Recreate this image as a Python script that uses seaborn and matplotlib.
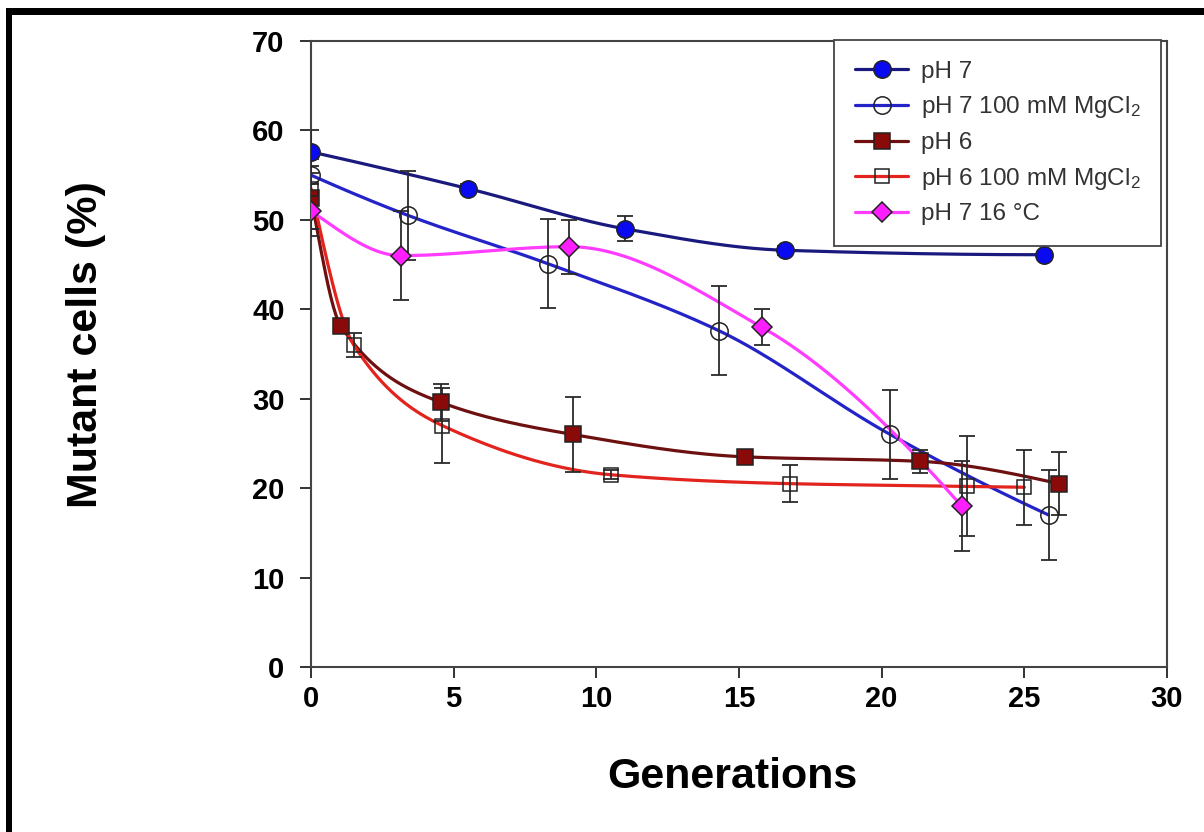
import numpy as np
import pandas as pd
import matplotlib
matplotlib.use("Agg")
import matplotlib.pyplot as plt
from matplotlib.lines import Line2D
from matplotlib.patches import Rectangle
import seaborn as sns

# ---------------- data ----------------
ph7_x = [0.0, 5.5, 11.0, 16.6, 25.7]
ph7_y = [57.6, 53.5, 49.0, 46.6, 46.1]
ph7_e = [2.4, 0.5, 1.4, 0.5, 0.3]

ph7mg_x = [0.0, 3.4, 8.3, 14.3, 20.3, 25.85]
ph7mg_y = [55.0, 50.5, 45.1, 37.6, 26.0, 17.0]
ph7mg_e = [1.0, 5.0, 5.0, 5.0, 5.0, 5.0]

ph6_x = [0.0, 1.05, 4.55, 9.18, 15.2, 21.33, 26.22]
ph6_y = [52.5, 38.1, 29.6, 26.0, 23.5, 23.0, 20.5]
ph6_e = [4.3, 0.4, 2.1, 4.2, 0.4, 1.3, 3.5]

ph6mg_x = [0.0, 1.5, 4.6, 10.5, 16.8, 23.0, 25.0]
ph6mg_y = [53.5, 36.0, 27.0, 21.5, 20.5, 20.2, 20.1]
ph6mg_e = [4.5, 1.3, 4.2, 0.5, 2.1, 5.6, 4.2]

ph716_x = [0.0, 3.15, 9.05, 15.8, 22.8]
ph716_y = [51.0, 46.0, 47.0, 38.0, 18.0]
ph716_e = [2.0, 5.0, 3.0, 2.0, 5.0]

labels = ["pH 7", "pH 7 100 mM MgCl$_2$", "pH 6", "pH 6 100 mM MgCl$_2$", "pH 7 16 \u00b0C"]
x_ticks = [0, 5, 10, 15, 20, 25, 30]
y_ticks = [0, 10, 20, 30, 40, 50, 60, 70]


def pchip(x, y, xs):
    """Shape-preserving piecewise cubic curve through the data points."""
    x = np.asarray(x, float)
    y = np.asarray(y, float)
    h = np.diff(x)
    d = np.diff(y) / h
    n = len(x)
    m = np.zeros(n)
    for k in range(1, n - 1):
        if d[k - 1] * d[k] > 0:
            w1 = 2 * h[k] + h[k - 1]
            w2 = h[k] + 2 * h[k - 1]
            m[k] = (w1 + w2) / (w1 / d[k - 1] + w2 / d[k])
    m0 = ((2 * h[0] + h[1]) * d[0] - h[0] * d[1]) / (h[0] + h[1])
    if np.sign(m0) != np.sign(d[0]):
        m0 = 0
    elif np.sign(d[0]) != np.sign(d[1]) and abs(m0) > abs(3 * d[0]):
        m0 = 3 * d[0]
    m[0] = m0
    mn = ((2 * h[-1] + h[-2]) * d[-1] - h[-1] * d[-2]) / (h[-1] + h[-2])
    if np.sign(mn) != np.sign(d[-1]):
        mn = 0
    elif np.sign(d[-1]) != np.sign(d[-2]) and abs(mn) > abs(3 * d[-1]):
        mn = 3 * d[-1]
    m[-1] = mn
    idx = np.clip(np.searchsorted(x, xs) - 1, 0, n - 2)
    t = (xs - x[idx]) / h[idx]
    h00 = 2 * t**3 - 3 * t**2 + 1
    h10 = t**3 - 2 * t**2 + t
    h01 = -2 * t**3 + 3 * t**2
    h11 = t**3 - t**2
    return h00 * y[idx] + h10 * h[idx] * m[idx] + h01 * y[idx + 1] + h11 * h[idx] * m[idx + 1]


sns.set_theme(style="ticks")
plt.rcParams["font.family"] = ["Liberation Sans", "DejaVu Sans"]
plt.rcParams["mathtext.default"] = "regular"
plt.rcParams["text.color"] = "black"
plt.rcParams["axes.labelcolor"] = "black"
plt.rcParams["xtick.color"] = "black"
plt.rcParams["ytick.color"] = "black"

fig = plt.figure(figsize=(12.04, 8.32), dpi=100)
ax = fig.add_axes([311 / 1204, (832 - 667) / 832, (1167 - 311) / 1204, (667 - 41) / 832])

series = [
    dict(x=ph7_x, y=ph7_y, e=ph7_e, line="#1a1a7e", marker="o", mfc="#0a0af0", ms=12.5),
    dict(x=ph7mg_x, y=ph7mg_y, e=ph7mg_e, line="#2323c8", marker="o", mfc="none", ms=12.5),
    dict(x=ph6_x, y=ph6_y, e=ph6_e, line="#6e1010", marker="s", mfc="#8a0a0a", ms=11),
    dict(x=ph6mg_x, y=ph6mg_y, e=ph6mg_e, line="#e3231d", marker="s", mfc="none", ms=10.5),
    dict(x=ph716_x, y=ph716_y, e=ph716_e, line="#ff3cff", marker="D", mfc="#ff1eff", ms=10.5),
]

handles = []
for s, lab in zip(series, labels):
    xs = np.linspace(s["x"][0], s["x"][-1], 300)
    ys = pchip(s["x"], s["y"], xs)
    df = pd.DataFrame({"x": xs, "y": ys})
    sns.lineplot(data=df, x="x", y="y", ax=ax, color=s["line"], linewidth=2.3,
                 sort=False, estimator=None, zorder=2, legend=False)
    ax.errorbar(s["x"], s["y"], yerr=s["e"], fmt="none", ecolor="#2a2a2a",
                elinewidth=1.3, capsize=6, capthick=1.3, zorder=3)
    ax.plot(s["x"], s["y"], linestyle="none", marker=s["marker"], markersize=s["ms"],
            markerfacecolor=s["mfc"], markeredgecolor="#222222", markeredgewidth=1.1, zorder=4)
    handles.append(Line2D([], [], color=s["line"], linewidth=2.3, marker=s["marker"],
                          markersize=s["ms"], markerfacecolor=s["mfc"],
                          markeredgecolor="#222222", markeredgewidth=1.1, label=lab))

ax.set_xlim(0, 30)
ax.set_ylim(0, 70)
ax.set_xticks(x_ticks)
ax.set_yticks(y_ticks)
ax.tick_params(axis="both", direction="out", length=8, width=1.4, color="#333333",
               labelcolor="black", labelsize=21, top=False, right=False)
ax.tick_params(axis="y", pad=11)
ax.tick_params(axis="x", pad=5)
for lbl in ax.get_xticklabels() + ax.get_yticklabels():
    lbl.set_fontweight("bold")
for sp in ax.spines.values():
    sp.set_visible(True)
    sp.set_color("#444444")
    sp.set_linewidth(1.5)

ax.set_xlabel("Generations", fontsize=31, fontweight="bold", color="black")
ax.set_ylabel("Mutant cells (%)", fontsize=31, fontweight="bold", color="black")
ax.xaxis.set_label_coords((732 - 311) / 856, (667 - 777) / 626)
ax.xaxis.label.set_va("center")
ax.yaxis.set_label_coords((86 - 311) / 856, (667 - 345) / 626)
ax.yaxis.label.set_va("center")

leg = ax.legend(handles=handles, loc="upper right",
                bbox_to_anchor=(1161 / 1204, (832 - 40) / 832),
                bbox_transform=fig.transFigure, borderaxespad=0,
                fontsize=17.5, handlelength=2.2, handletextpad=0.5,
                labelspacing=0.48, borderpad=0.85, frameon=True, fancybox=False,
                framealpha=1, edgecolor="#444444")
leg.get_frame().set_linewidth(1.3)
for t in leg.get_texts():
    t.set_color("#333333")

# figure frame (top and left black bars)
fig.patches.append(Rectangle((6 / 1204, -0.1), 6 / 1204, 1.1 - 8 / 832,
                             transform=fig.transFigure, facecolor="black", edgecolor="none"))
fig.patches.append(Rectangle((6 / 1204, (832 - 15) / 832), 1.0, 7 / 832,
                             transform=fig.transFigure, facecolor="black", edgecolor="none"))

fig.savefig("out.png", dpi=100)
